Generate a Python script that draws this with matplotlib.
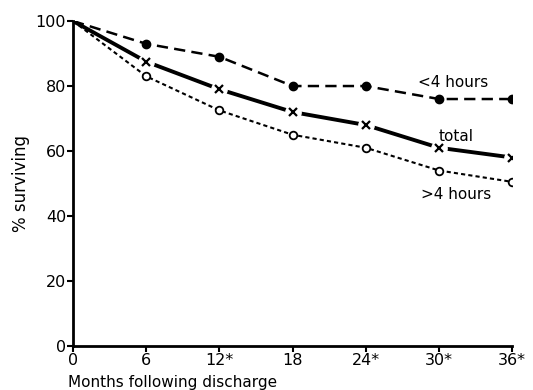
import matplotlib
matplotlib.use("Agg")
import matplotlib.pyplot as plt

months = [0, 6, 12, 18, 24, 30, 36]
month_labels = ['0', '6', '12*', '18', '24*', '30*', '36*']
under_4h = [100, 93, 89, 80, 80, 76, 76]
total = [100, 87.5, 79, 72, 68, 61, 58]
over_4h = [100, 83, 72.5, 65, 61, 54, 50.5]

plt.rcParams['font.family'] = ['DejaVu Sans']

fig = plt.figure(figsize=(5.33, 3.9), dpi=100)
ax = fig.add_axes([0.137, 0.113, 0.824, 0.833])

# lines
ax.plot(months, under_4h, color='black', lw=1.8, ls=(0, (4.5, 2.5)), zorder=2)
ax.plot(months, over_4h, color='black', lw=1.5, ls=(0, (2, 1.5)), zorder=2)
ax.plot(months, total, color='black', lw=2.8, zorder=2)

# markers
ax.plot(months[1:], under_4h[1:], 'o', color='black', ms=6, zorder=4)
ax.plot(months[1:], over_4h[1:], 'o', mfc='white', mec='black', mew=1.3, ms=5.5, zorder=4)
ax.plot(months[1:], total[1:], 'o', color='white', ms=11, zorder=3)
ax.plot(months[1:], total[1:], 'x', color='black', mew=1.6, ms=6, zorder=4)

ax.text(28.3, 81, '<4 hours', fontsize=11, ha='left', va='center')
ax.text(30.0, 64.5, 'total', fontsize=11, ha='left', va='center')
ax.text(28.5, 46.5, '>4 hours', fontsize=11, ha='left', va='center')

ax.set_xlim(0, 36)
ax.set_ylim(0, 100)
ax.set_xticks(months)
ax.set_xticklabels(month_labels)
ax.set_yticks([0, 20, 40, 60, 80, 100])
ax.tick_params(labelsize=11.5, width=1.5, length=4, direction='out', pad=1)
ax.spines['top'].set_visible(False)
ax.spines['right'].set_visible(False)
ax.spines['left'].set_linewidth(2)
ax.spines['bottom'].set_linewidth(2)
ax.spines['left'].set_zorder(5)
ax.spines['bottom'].set_zorder(5)

ax.set_xlabel('Months following discharge', fontsize=11, loc='left', labelpad=0)
ax.xaxis.set_label_coords(-0.012, -0.088)
ax.set_ylabel('% surviving', fontsize=12, labelpad=4)

fig.savefig('out.png', dpi=100)
